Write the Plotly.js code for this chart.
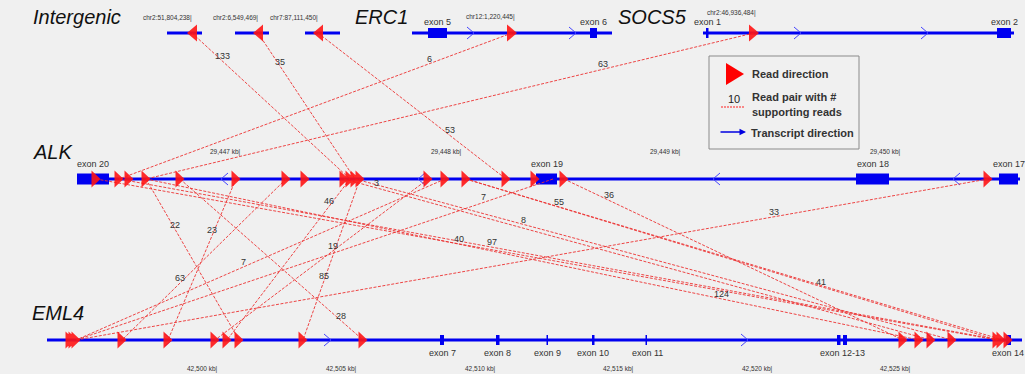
<!DOCTYPE html>
<html><head><meta charset="utf-8">
<script src="https://cdn.plot.ly/plotly-3.0.1.min.js"></script>
<style>html,body{margin:0;padding:0;background:#f0f0f0;}#chart{width:1025px;height:374px;}</style>
</head><body><div id="chart"></div>
<script>
// ---------------- DATA (positions, in diagram units) ----------------
// Intergenic partners
const interSegStart = [167, 235, 305];
const interSegEnd   = [202, 269, 340];
const interBreakLabels = ['chr2:51,804,238|', 'chr2:6,549,469|', 'chr7:87,111,450|'];
const interReads = [192, 258, 318];           // reads pointing left

// ERC1
const erc1Span = [412, 612];
const erc1ExonNames = ['exon 5', 'exon 6'];
const erc1ExonStart = [428, 590];
const erc1ExonEnd   = [447, 597];
const erc1Chevrons  = [474, 576];
const erc1Reads = [512];
const erc1BreakLabel = 'chr12:1,220,445|';

// SOCS5
const socs5Span = [703, 1014];
const socs5ExonNames = ['exon 1', 'exon 2'];
const socs5ExonStart = [706, 997];
const socs5ExonEnd   = [708.5, 1011];
const socs5Chevrons  = [801, 928];
const socs5Reads = [754];
const socs5BreakLabel = 'chr2:46,936,484|';

// ALK
const alkSpan = [77, 1020];
const alkExonNames = ['exon 20', 'exon 19', 'exon 18', 'exon 17'];
const alkExonStart = [77, 536, 856, 999];
const alkExonEnd   = [109, 557, 889, 1018];
const alkChevrons  = [221, 418, 713, 953];
const alkReads = [96, 119, 129, 146, 180, 236, 286, 305, 344, 350, 355, 360, 428, 445, 466, 506, 535, 564, 988];
const alkKbLabels = ['29,447 kb|', '29,448 kb|', '29,449 kb|', '29,450 kb|'];
const alkKbPos = [243, 464, 683, 903];

// EML4
const eml4Span = [47, 1022];
const eml4ExonStart = [440, 496, 546.5, 592, 645.5, 837, 843, 1006];
const eml4ExonEnd   = [444, 499.5, 548, 594.5, 647, 840.5, 847, 1011];
const eml4ExonNames = ['exon 7', 'exon 8', 'exon 9', 'exon 10', 'exon 11', 'exon 12-13', 'exon 14'];
const eml4ExonNamePos = [442, 497, 547, 593, 647, 842, 1008];
const eml4Chevrons = [172, 331, 748, 934];
const eml4Reads = [70, 73, 76, 122, 168, 215, 227, 239, 303, 363, 903, 919, 931, 952, 997, 1001, 1008];
const eml4KbLabels = ['42,500 kb|', '42,505 kb|', '42,510 kb|', '42,515 kb|', '42,520 kb|', '42,525 kb|'];
const eml4KbPos = [220, 359, 498, 636, 775, 913];

// Read pairs: partner (top row) -> ALK
const topLinkFrom  = [192, 258, 318, 512, 754];
const topLinkToAlk = [350, 355, 506, 119, 146];
const topLinkReads = [133, 35, 53, 6, 63];
const topLinkLabelAt = [0.19, 0.23, 0.70, 0.21, 0.248];

// Read pairs: ALK -> EML4
const midLinkAlk  = [344, 350, 146, 236, 445, 286, 428, 360, 180, 553, 466, 564, 355, 96, 119, 988, 146, 466];
const midLinkEml4 = [931, 227, 239, 168, 76, 122, 215, 303, 363, 76, 1003, 903, 952, 997, 1000, 76, 919, 997];
const midLinkReads = [3, 46, 22, 23, 7, 63, 19, 85, 28, 7, 55, 36, 8, 40, 97, 33, 124, 41];
const midLinkLabelAt = [0.055, 0.168, 0.317, 0.348, 0.547, 0.646, 0.447, 0.634, 0.882, 0.145, 0.173, 0.133, 0.283, 0.403, 0.423, 0.235, 0.745, 0.668];

// ---------------- LAYOUT CONSTANTS ----------------
const Y_TOP = 33, Y_ALK = 179, Y_EML = 340;
const BLUE = '#0000f0', RED = '#ff1515', LINKRED = 'rgba(236,50,50,0.9)';
const FONT = 'Liberation Sans, Arial, sans-serif';

const traces = [];
const shapes = [];
const ann = [];

// backbones
function backbone(x0, x1, y) {
  shapes.push({type:'line', xref:'x', yref:'y', x0:x0, x1:x1, y0:y, y1:y, layer:'below', line:{color:BLUE, width:3}});
}
interSegStart.forEach((s,i) => backbone(s, interSegEnd[i], Y_TOP));
backbone(erc1Span[0], erc1Span[1], Y_TOP);
backbone(socs5Span[0], socs5Span[1], Y_TOP);
backbone(alkSpan[0], alkSpan[1], Y_ALK);
backbone(eml4Span[0], eml4Span[1], Y_EML);

// exons
function exons(starts, ends, y, hh) {
  starts.forEach((s,i) => shapes.push({type:'rect', xref:'x', yref:'y', x0:s, x1:ends[i], y0:y-hh, y1:y+hh, layer:'below', fillcolor:BLUE, line:{width:0}}));
}
exons(erc1ExonStart, erc1ExonEnd, Y_TOP, 5);
exons(socs5ExonStart, socs5ExonEnd, Y_TOP, 5);
exons(alkExonStart, alkExonEnd, Y_ALK, 5.5);
exons(eml4ExonStart, eml4ExonEnd, Y_EML, 5);

// chevrons (transcript direction)
function chevrons(xs, y, dir) {
  const X=[], Y=[];
  xs.forEach(x => { X.push(x-dir*7, x, x-dir*7, null); Y.push(y-6, y, y+6, null); });
  traces.push({type:'scatter', mode:'lines', x:X, y:Y, line:{color:'#4444ff', width:1}, hoverinfo:'skip'});
}
chevrons(erc1Chevrons, Y_TOP, 1);
chevrons(socs5Chevrons, Y_TOP, 1);
chevrons(alkChevrons, Y_ALK, -1);
chevrons(eml4Chevrons, Y_EML, 1);

// links
const LX=[], LY=[];
function addLink(x0, y0, x1, y1, n, t) {
  LX.push(x0, x1, null); LY.push(y0, y1, null);
  ann.push({x:x0+t*(x1-x0), y:y0+t*(y1-y0), yshift:5, text:String(n), showarrow:false, xref:'x', yref:'y',
            font:{family:FONT, size:9, color:'#333'}});
}
topLinkFrom.forEach((x,i) => addLink(x, Y_TOP, topLinkToAlk[i], Y_ALK, topLinkReads[i], topLinkLabelAt[i]));
midLinkAlk.forEach((x,i) => addLink(x, Y_ALK, midLinkEml4[i], Y_EML, midLinkReads[i], midLinkLabelAt[i]));
traces.push({type:'scatter', mode:'lines', x:LX, y:LY, line:{color:LINKRED, width:1, dash:'3px,1.5px'}, hoverinfo:'skip'});

// read triangles
function triangles(xs, y, dir, hw, hh) {
  const X=[], Y=[];
  xs.forEach(x => { X.push(x-dir*hw, x+dir*hw, x-dir*hw, null); Y.push(y-hh, y, y+hh, null); });
  traces.push({type:'scatter', mode:'lines', x:X, y:Y, fill:'toself', fillcolor:'rgba(255,20,20,0.9)', line:{width:0, color:RED}, hoverinfo:'skip'});
}
triangles(interReads, Y_TOP, -1, 5, 8.5);
triangles(erc1Reads, Y_TOP, 1, 5, 8.5);
triangles(socs5Reads, Y_TOP, 1, 5, 8.5);
triangles(alkReads, Y_ALK, 1, 4.5, 8.5);
triangles(eml4Reads, Y_EML, 1, 4.5, 8.5);

// ---------------- TEXT ----------------
function txt(x, y, s, size, opts) {
  ann.push(Object.assign({x:x, y:y, text:s, showarrow:false, xref:'x', yref:'y', xanchor:'center', yanchor:'middle',
    font:{family:FONT, size:size, color:'#333'}}, opts || {}));
}
const geneFont = {family:FONT, size:20, color:'#111', style:'italic'};
txt(31, 17, 'Intergenic', 20, {xanchor:'left', font:geneFont});
txt(353, 17, 'ERC1', 20, {xanchor:'left', font:geneFont});
txt(616, 17, 'SOCS5', 20, {xanchor:'left', font:geneFont});
txt(31, 152, 'ALK', 20, {xanchor:'left', font:geneFont});
txt(30, 313, 'EML4', 20, {xanchor:'left', font:geneFont});

interReads.forEach((x,i) => txt(x+2, 18, interBreakLabels[i], 6.5, {xanchor:'right'}));
txt(erc1Reads[0]+5, 17, erc1BreakLabel, 6.5, {xanchor:'right'});
txt(socs5Reads[0]+4, 13, socs5BreakLabel, 6.5, {xanchor:'right'});

erc1ExonNames.forEach((n,i) => txt((erc1ExonStart[i]+erc1ExonEnd[i])/2, 22, n, 9));
socs5ExonNames.forEach((n,i) => txt((socs5ExonStart[i]+socs5ExonEnd[i])/2, 22, n, 9));
alkExonNames.forEach((n,i) => txt((alkExonStart[i]+alkExonEnd[i])/2, 164, n, 9));
eml4ExonNames.forEach((n,i) => txt(eml4ExonNamePos[i], 353, n, 9));
alkKbLabels.forEach((n,i) => txt(alkKbPos[i], 152, n, 6.5, {xanchor:'right'}));
eml4KbLabels.forEach((n,i) => txt(eml4KbPos[i], 369, n, 6.5, {xanchor:'right'}));

// ---------------- LEGEND (drawn) ----------------
shapes.push({type:'rect', xref:'x', yref:'y', x0:709, x1:859, y0:56, y1:149, line:{color:'#8a8a8a', width:1}, fillcolor:'rgba(0,0,0,0)'});
traces.push({type:'scatter', mode:'lines', x:[726,744,726,726], y:[63,74,85,63], fill:'toself', fillcolor:'#ff0000', line:{width:0}, hoverinfo:'skip'});
shapes.push({type:'line', xref:'x', yref:'y', x0:721, x1:744, y0:107, y1:107, line:{color:'#ff2020', width:1, dash:'2px,1px'}});
const legFont = {family:FONT, size:11, color:'#333', weight:'bold'};
txt(734, 99, '10', 11, {font:{family:FONT, size:11, color:'#222'}});
txt(750, 74, 'Read direction', 11, {xanchor:'left', font:legFont});
txt(750, 97, 'Read pair with #', 11, {xanchor:'left', font:legFont});
txt(750, 112, 'supporting reads', 11, {xanchor:'left', font:legFont});
txt(749, 133, 'Transcript direction', 11, {xanchor:'left', font:legFont});
ann.push({x:746, y:132, ax:719, ay:132, axref:'x', ayref:'y', xref:'x', yref:'y', showarrow:true,
          arrowhead:2, arrowsize:1, arrowwidth:1.3, arrowcolor:'#0000e0', text:''});

const layout = {
  width:1025, height:374, margin:{l:0, r:0, t:0, b:0},
  paper_bgcolor:'#f0f0f0', plot_bgcolor:'#f0f0f0', showlegend:false,
  xaxis:{range:[0,1025], visible:false, fixedrange:true},
  yaxis:{range:[374,0], visible:false, fixedrange:true},
  shapes:shapes, annotations:ann
};
Plotly.newPlot('chart', traces, layout, {staticPlot:true, displayModeBar:false});
</script>
</body></html>
